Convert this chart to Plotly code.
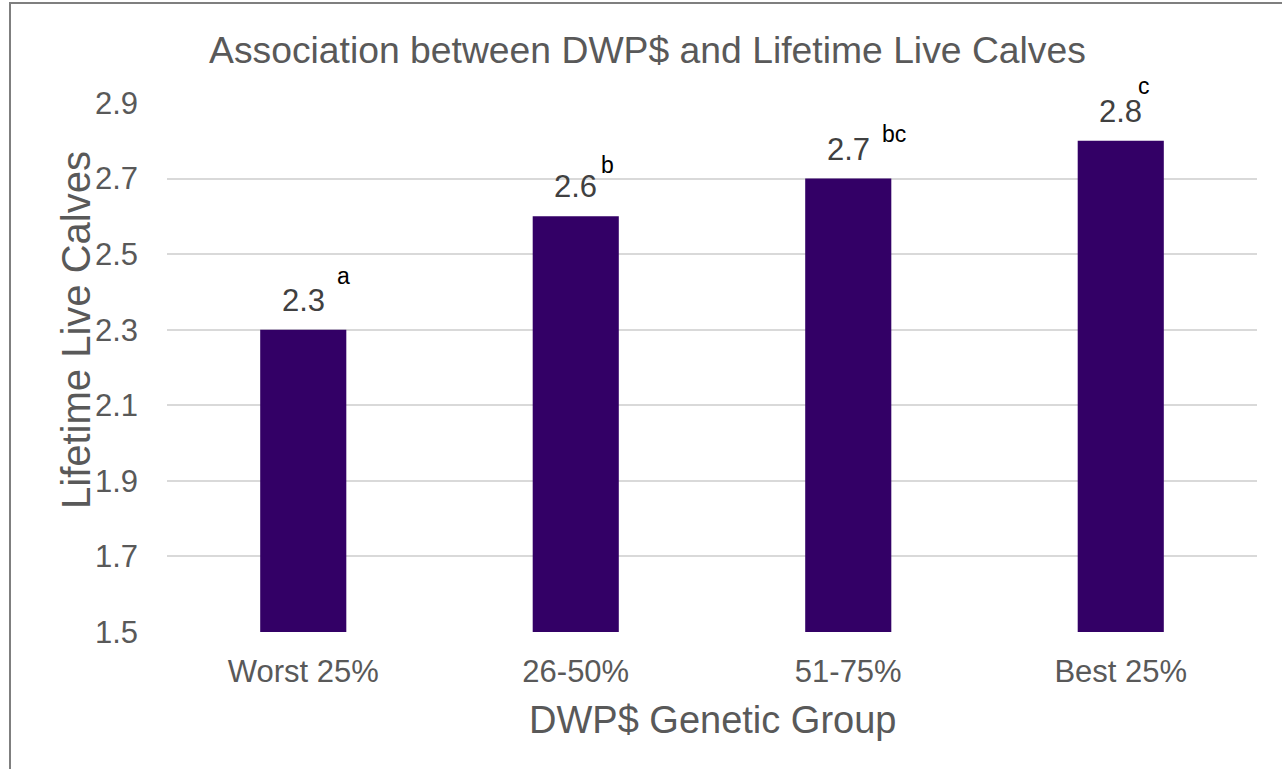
import plotly.graph_objects as go

categories = ["Worst 25%", "26-50%", "51-75%", "Best 25%"]
values = [2.3, 2.6, 2.7, 2.8]
letters = ["a", "b", "bc", "c"]
tick_vals = [1.5, 1.7, 1.9, 2.1, 2.3, 2.5, 2.7, 2.9]
y_min = 1.5

# style offsets (pixels) for the superscript letters
sup_dx = [40, 32, 46, 23]
sup_dy = [47, 44, 38, 48]

FONT = "Liberation Sans, Arial, sans-serif"
GRAY = "#595959"
W, H = 1282, 769
OFF = 0  # body margin removed via post_script
# target plot area in page pixels: x 167..1257, y 103..632
ML = 167 - OFF
MT = 103 - OFF
MR = W - (1257 - OFF)
MB = H - (632 - OFF)
PW, PH = W - ML - MR, H - MT - MB


def px_x(p):  # page pixel -> paper x
    return (p - OFF - ML) / PW


def px_y(p):  # page pixel -> paper y
    return (H - MB - (p - OFF)) / PH


fig = go.Figure()
fig.add_trace(go.Bar(
    x=categories, y=[v - y_min for v in values], base=[y_min] * len(values),
    marker=dict(color="#330066", line=dict(width=0)), width=0.316,
    hoverinfo="skip",
))

for c, v, l, dx, dy in zip(categories, values, letters, sup_dx, sup_dy):
    fig.add_annotation(x=c, y=v, text=f"{v:.1f}", showarrow=False,
                       yanchor="bottom", yshift=10,
                       font=dict(family=FONT, size=31, color="#404040"))
    fig.add_annotation(x=c, y=v, text=l, showarrow=False,
                       yanchor="bottom", xshift=dx, yshift=dy - 8,
                       font=dict(family=FONT, size=23, color="#000000"))

# axis titles as annotations for precise placement
fig.add_annotation(text="Lifetime Live Calves", xref="paper", yref="paper",
                   x=px_x(76), y=px_y(330), textangle=-90,
                   xanchor="center", yanchor="middle", showarrow=False,
                   font=dict(family=FONT, size=40, color=GRAY))
fig.add_annotation(text="DWP$ Genetic Group", xref="paper", yref="paper",
                   x=0.5, y=px_y(720),
                   xanchor="center", yanchor="middle", showarrow=False,
                   font=dict(family=FONT, size=38, color=GRAY))
fig.add_annotation(text="Association between DWP$ and Lifetime Live Calves",
                   xref="paper", yref="paper", x=px_x(647), y=px_y(50),
                   xanchor="center", yanchor="middle", showarrow=False,
                   font=dict(family=FONT, size=37.3, color=GRAY))

fig.update_layout(
    width=W, height=H,
    margin=dict(l=ML, r=MR, t=MT, b=MB),
    paper_bgcolor="white", plot_bgcolor="white",
    showlegend=False,
    font=dict(family=FONT, color=GRAY),
)
fig.update_yaxes(range=[y_min, 2.9], tickvals=tick_vals, tickformat=".1f",
                 showgrid=True, gridcolor="#d9d9d9", gridwidth=1.5,
                 zeroline=False, showline=False, ticks="", automargin=False,
                 ticklabelstandoff=28,
                 tickfont=dict(family=FONT, size=31, color=GRAY))
fig.update_xaxes(showgrid=False, showline=False, zeroline=False, ticks="",
                 automargin=False, ticklabelstandoff=18,
                 tickfont=dict(family=FONT, size=31, color=GRAY))

# chart border (Excel chart area outline)
fig.add_shape(type="rect", xref="paper", yref="paper",
              x0=px_x(10), x1=px_x(W + 30),
              y0=px_y(H + 30), y1=px_y(3),
              line=dict(color="#7f7f7f", width=2), fillcolor="rgba(0,0,0,0)",
              layer="below")

fig.write_html("out.html",
               config={"displayModeBar": False},
               post_script="document.body.style.margin='0';"
                           "document.body.style.overflow='hidden';")
